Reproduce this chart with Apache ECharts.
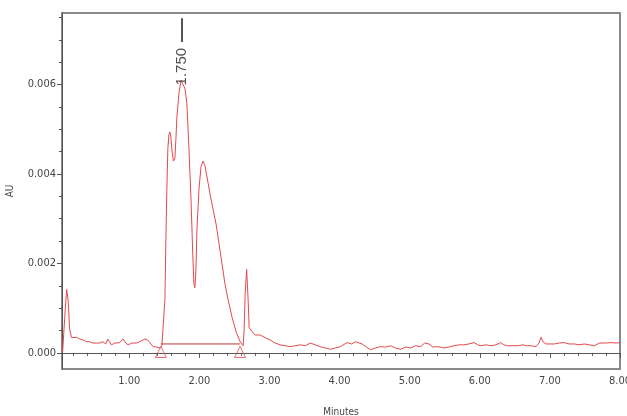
<!DOCTYPE html>
<html>
<head>
<meta charset="utf-8">
<script src="https://cdn.jsdelivr.net/npm/echarts@6/dist/echarts.min.js"></script>
<style>
  html, body { margin: 0; padding: 0; background: #fff; }
  #chart { width: 627px; height: 416px; }
</style>
</head>
<body>
<div id="chart"></div>
<script>
// retention time (minutes) and absorbance (AU)
const times = [
  0.049, 0.077, 0.106, 0.127, 0.149, 0.177, 0.196, 0.245, 0.292, 0.339,
  0.392, 0.435, 0.478, 0.531, 0.578, 0.625, 0.664, 0.692, 0.745, 0.793,
  0.864, 0.911, 0.950, 0.983, 1.036, 1.103, 1.150, 1.175, 1.222, 1.269,
  1.308, 1.341, 1.393, 1.436, 1.465, 1.486,
  1.508, 1.522, 1.536, 1.550, 1.565, 1.579, 1.593, 1.607, 1.629, 1.650,
  1.665, 1.679, 1.708, 1.737, 1.750, 1.765, 1.794, 1.822, 1.851, 1.880,
  1.908, 1.922, 1.936, 1.951, 1.965, 1.994, 2.023, 2.052, 2.080, 2.109,
  2.152, 2.195, 2.238, 2.281, 2.324, 2.366, 2.409, 2.467, 2.524, 2.581,
  2.624, 2.638, 2.652, 2.674, 2.695, 2.710, 2.748, 2.795, 2.867, 2.938,
  3.009, 3.081, 3.152, 3.224, 3.296, 3.367, 3.439, 3.511, 3.582, 3.654,
  3.725, 3.797, 3.868, 3.940, 4.011, 4.107, 4.169, 4.226, 4.322, 4.384,
  4.441, 4.512, 4.584, 4.655, 4.727, 4.798, 4.870, 4.941, 5.013, 5.084,
  5.156, 5.213, 5.275, 5.328, 5.370, 5.442, 5.489, 5.557, 5.632, 5.700,
  5.775, 5.843, 5.918, 5.971, 6.014, 6.086, 6.157, 6.229, 6.300, 6.343,
  6.396, 6.472, 6.539, 6.615, 6.672, 6.730, 6.801, 6.844, 6.873, 6.901,
  6.944, 7.015, 7.063, 7.130, 7.206, 7.273, 7.349, 7.416, 7.492, 7.559,
  7.635, 7.707, 7.788, 7.874, 7.946, 8.000
];
const au = [
  0.00002, 0.00074, 0.00142, 0.00119, 0.00052, 0.00034, 0.00033, 0.00035, 0.00031, 0.00029,
  0.00025, 0.00025, 0.00022, 0.00022, 0.00022, 0.00025, 0.00020, 0.00031, 0.00018, 0.00022,
  0.00023, 0.00031, 0.00022, 0.00018, 0.00022, 0.00022, 0.00025, 0.00029, 0.00031, 0.00028,
  0.00020, 0.00014, 0.00013, 0.00011, 0.00016, 0.00018,
  0.00119, 0.00254, 0.00366, 0.00456, 0.00488, 0.00494, 0.00483, 0.00456, 0.00429, 0.00434,
  0.00479, 0.00528, 0.00580, 0.00609, 0.00613, 0.00609, 0.00591, 0.00557, 0.00456, 0.00344,
  0.00209, 0.00153, 0.00146, 0.00187, 0.00276, 0.00366, 0.00416, 0.00429, 0.00418, 0.00393,
  0.00355, 0.00321, 0.00288, 0.00243, 0.00198, 0.00153, 0.00119, 0.00079, 0.00047, 0.00025,
  0.00016, 0.00052, 0.00130, 0.00187, 0.00119, 0.00056, 0.00048, 0.00040, 0.00040, 0.00034,
  0.00029, 0.00022, 0.00018, 0.00016, 0.00014, 0.00016, 0.00018, 0.00016, 0.00022, 0.00018,
  0.00014, 0.00011, 0.00008, 0.00011, 0.00014, 0.00023, 0.00020, 0.00025, 0.00020, 0.00013,
  0.00007, 0.00011, 0.00014, 0.00013, 0.00016, 0.00011, 0.00008, 0.00013, 0.00011, 0.00016,
  0.00014, 0.00022, 0.00020, 0.00013, 0.00014, 0.00013, 0.00011, 0.00013, 0.00016, 0.00018,
  0.00018, 0.00020, 0.00023, 0.00018, 0.00016, 0.00018, 0.00016, 0.00018, 0.00023, 0.00018,
  0.00016, 0.00016, 0.00016, 0.00018, 0.00016, 0.00016, 0.00014, 0.00022, 0.00035, 0.00025,
  0.00020, 0.00020, 0.00020, 0.00022, 0.00023, 0.00020, 0.00020, 0.00018, 0.00020, 0.00018,
  0.00016, 0.00022, 0.00022, 0.00023, 0.00022, 0.00023
];

// integration: peak start / end and its baseline level
const peakStart = 1.45;
const peakEnd = 2.58;
const baselineAU = 0.0002;
const markerAU = 0.00002;

// apex annotation
const apexTime = 1.750;
const apexLabel = "1.750";
const labelAU = 0.0064;
const labelLineAU = [0.00695, 0.00748];

// axes
const xRange = [0.04, 8.0];
const yRange = [-0.00036, 0.0076];
const xLabels = [1, 2, 3, 4, 5, 6, 7, 8];
const xMinor = [0.2, 0.4, 0.6, 0.8, 1.2, 1.4, 1.6, 1.8, 2.2, 2.4, 2.6, 2.8, 3.2, 3.4, 3.6, 3.8,
  4.2, 4.4, 4.6, 4.8, 5.2, 5.4, 5.6, 5.8, 6.2, 6.4, 6.6, 6.8, 7.2, 7.4, 7.6, 7.8];
const yLabels = [0, 0.002, 0.004, 0.006];
const yMinor = [0.0005, 0.001, 0.0015, 0.0025, 0.003, 0.0035, 0.0045, 0.005, 0.0055, 0.0065, 0.007, 0.0075];

const traceColor = "#e5484d";
const font = "'Liberation Sans Narrow', 'DejaVu Sans Condensed', 'Liberation Sans', Arial, sans-serif";
const grid = { left: 62, right: 7, top: 13, bottom: 47 };

const chart = echarts.init(document.getElementById("chart"), null, { renderer: "canvas" });

const minorX = {
  type: "value", gridIndex: 0, min: xRange[0], max: xRange[1], position: "bottom",
  axisLine: { show: false }, splitLine: { show: false }, axisLabel: { show: false },
  axisTick: { show: true, length: 3, customValues: xMinor, lineStyle: { color: "#555" } }
};
const minorY = {
  type: "value", gridIndex: 0, min: yRange[0], max: yRange[1], position: "left",
  axisLine: { show: false }, splitLine: { show: false }, axisLabel: { show: false },
  axisTick: { show: true, length: 3, customValues: yMinor, lineStyle: { color: "#555" } }
};

chart.setOption({
  animation: false,
  backgroundColor: "#fff",
  grid: Object.assign({
    show: true, borderColor: "#8a8a8a", borderWidth: 2, backgroundColor: "#fff",
    containLabel: false, outerBoundsMode: "none"
  }, grid),
  xAxis: [
    {
      type: "value",
      min: xRange[0],
      max: xRange[1],
      name: "Minutes",
      nameLocation: "middle",
      nameGap: 38,
      nameTextStyle: { color: "#444", fontSize: 10, fontFamily: font },
      axisLine: { show: true, lineStyle: { color: "#555", width: 1 } },
      axisTick: { show: true, length: 5, customValues: xLabels, lineStyle: { color: "#555" } },
      axisLabel: {
        color: "#444", fontSize: 11, fontFamily: font, margin: 7,
        customValues: xLabels,
        formatter: (v) => v.toFixed(2)
      },
      splitLine: { show: false }
    },
    minorX
  ],
  yAxis: [
    {
      type: "value",
      min: yRange[0],
      max: yRange[1],
      name: "AU",
      nameLocation: "middle",
      nameGap: 47,
      nameTextStyle: { color: "#444", fontSize: 10, fontFamily: font },
      axisLine: { show: true, lineStyle: { color: "#555", width: 1 } },
      axisTick: { show: true, length: 5, customValues: yLabels, lineStyle: { color: "#555" } },
      axisLabel: {
        color: "#444", fontSize: 11, fontFamily: font, margin: 6,
        customValues: yLabels,
        formatter: (v) => v.toFixed(3)
      },
      splitLine: { show: false }
    },
    minorY
  ],
  series: [
    {
      name: "trace",
      type: "line",
      data: times.map((t, i) => [t, au[i]]),
      showSymbol: false,
      symbol: "none",
      lineStyle: { color: traceColor, width: 1 },
      markLine: {
        silent: true,
        symbol: "none",
        label: { show: false },
        lineStyle: { color: "#555", width: 2, type: "solid" },
        data: [[{ coord: [apexTime, labelLineAU[0]] }, { coord: [apexTime, labelLineAU[1]] }]]
      },
      z: 3
    },
    {
      name: "baseline",
      type: "line",
      data: [[peakStart, baselineAU], [peakEnd, baselineAU]],
      showSymbol: false,
      symbol: "none",
      lineStyle: { color: "#b8383c", width: 1 },
      z: 2
    },
    {
      name: "markers",
      type: "scatter",
      data: [[peakStart, markerAU], [peakEnd, markerAU]],
      symbol: "triangle",
      symbolSize: [11, 11],
      itemStyle: { color: "rgba(255,255,255,0)", borderColor: traceColor, borderWidth: 1 },
      z: 4
    },
    {
      name: "apex",
      type: "scatter",
      data: [[apexTime, labelAU]],
      symbolSize: 0,
      label: {
        show: true,
        position: "inside",
        rotate: 90,
        formatter: apexLabel,
        color: "#222",
        fontSize: 15,
        fontFamily: "'Liberation Sans', Arial, sans-serif"
      },
      z: 5
    }
  ]
});
</script>
</body>
</html>
